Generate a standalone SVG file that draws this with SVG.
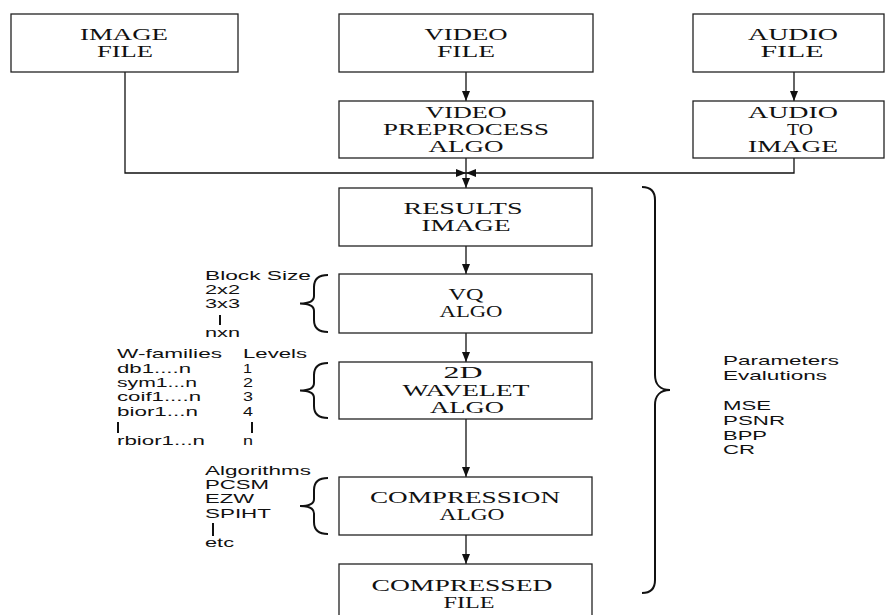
<svg xmlns="http://www.w3.org/2000/svg" width="885" height="615" viewBox="0 0 885 615">
<style>
.box{fill:#fff;stroke:#222;stroke-width:1.3}
.t{font-family:"Liberation Serif","Times New Roman",serif;font-size:16px;fill:#111;text-anchor:middle}
.s{font-family:"Liberation Sans",Arial,sans-serif;font-size:13px;fill:#111}
.ln{fill:none;stroke:#111;stroke-width:1.3}
.pp{fill:none;stroke:#111;stroke-width:2}
.br{fill:none;stroke:#111;stroke-width:2}
</style>
<defs>
<marker id="ah" viewBox="0 0 10 8" refX="10" refY="4" markerWidth="10" markerHeight="8" markerUnits="userSpaceOnUse" orient="auto">
<path d="M0,0 L10,4 L0,8 Z" fill="#111"/>
</marker>
</defs>
<rect width="885" height="615" fill="#fff"/>
<g id="connectors">
<path class="ln" d="M125,72 V173 H466" marker-end="url(#ah)"/>
<path class="ln" d="M794,158 V173 H466" marker-end="url(#ah)"/>
<path class="ln" d="M466,72 V101" marker-end="url(#ah)"/>
<path class="ln" d="M794,72 V101" marker-end="url(#ah)"/>
<path class="ln" d="M466,158 V188" marker-end="url(#ah)"/>
<path class="ln" d="M466,246 V274" marker-end="url(#ah)"/>
<path class="ln" d="M466,333 V362" marker-end="url(#ah)"/>
<path class="ln" d="M466,419 V477" marker-end="url(#ah)"/>
<path class="ln" d="M466,535 V564" marker-end="url(#ah)"/>
</g>
<g id="image-file">
<rect class="box" x="11" y="14" width="227" height="58"/>
<text class="t" x="124" y="40" textLength="88" lengthAdjust="spacingAndGlyphs">IMAGE</text>
<text class="t" x="125" y="57" textLength="56" lengthAdjust="spacingAndGlyphs">FILE</text>
</g>
<g id="video-file">
<rect class="box" x="339" y="14" width="254" height="58"/>
<text class="t" x="466" y="40" textLength="83" lengthAdjust="spacingAndGlyphs">VIDEO</text>
<text class="t" x="466" y="57" textLength="58" lengthAdjust="spacingAndGlyphs">FILE</text>
</g>
<g id="audio-file">
<rect class="box" x="693" y="14" width="191" height="58"/>
<text class="t" x="793" y="40" textLength="90" lengthAdjust="spacingAndGlyphs">AUDIO</text>
<text class="t" x="792" y="57" textLength="63" lengthAdjust="spacingAndGlyphs">FILE</text>
</g>
<g id="video-preprocess">
<rect class="box" x="339" y="101" width="254" height="57"/>
<text class="t" x="466" y="118" textLength="81" lengthAdjust="spacingAndGlyphs">VIDEO</text>
<text class="t" x="466" y="135" textLength="166" lengthAdjust="spacingAndGlyphs">PREPROCESS</text>
<text class="t" x="466" y="152" textLength="75" lengthAdjust="spacingAndGlyphs">ALGO</text>
</g>
<g id="audio-to-image">
<rect class="box" x="693" y="101" width="191" height="57"/>
<text class="t" x="793" y="118" textLength="90" lengthAdjust="spacingAndGlyphs">AUDIO</text>
<text class="t" x="800" y="135" textLength="26" lengthAdjust="spacingAndGlyphs">TO</text>
<text class="t" x="793" y="152" textLength="90" lengthAdjust="spacingAndGlyphs">IMAGE</text>
</g>
<g id="results-image">
<rect class="box" x="339" y="188" width="253" height="58"/>
<text class="t" x="463" y="214" textLength="119" lengthAdjust="spacingAndGlyphs">RESULTS</text>
<text class="t" x="466" y="231" textLength="89" lengthAdjust="spacingAndGlyphs">IMAGE</text>
</g>
<g id="vq-algo">
<rect class="box" x="339" y="274" width="253" height="59"/>
<text class="t" x="466" y="300" textLength="35" lengthAdjust="spacingAndGlyphs">VQ</text>
<text class="t" x="471" y="317" textLength="63" lengthAdjust="spacingAndGlyphs">ALGO</text>
</g>
<g id="wavelet-algo">
<rect class="box" x="339" y="362" width="253" height="57"/>
<text class="t" x="463" y="378" textLength="39" lengthAdjust="spacingAndGlyphs">2D</text>
<text class="t" x="466" y="396" textLength="127" lengthAdjust="spacingAndGlyphs">WAVELET</text>
<text class="t" x="467" y="413" textLength="74" lengthAdjust="spacingAndGlyphs">ALGO</text>
</g>
<g id="compression-algo">
<rect class="box" x="339" y="477" width="253" height="58"/>
<text class="t" x="465" y="503" textLength="190" lengthAdjust="spacingAndGlyphs">COMPRESSION</text>
<text class="t" x="472" y="520" textLength="65" lengthAdjust="spacingAndGlyphs">ALGO</text>
</g>
<g id="compressed-file">
<rect class="box" x="339" y="564" width="253" height="62"/>
<text class="t" x="462" y="591" font-size="15" textLength="181" lengthAdjust="spacingAndGlyphs">COMPRESSED</text>
<text class="t" x="469" y="608" font-size="15" textLength="51" lengthAdjust="spacingAndGlyphs">FILE</text>
</g>
<g id="block-size">
<text class="s" x="205" y="280" textLength="106" lengthAdjust="spacingAndGlyphs">Block Size</text>
<text class="s" x="205" y="294" textLength="35" lengthAdjust="spacingAndGlyphs">2x2</text>
<text class="s" x="205" y="308" textLength="35" lengthAdjust="spacingAndGlyphs">3x3</text>
<line class="pp" x1="220" y1="315" x2="220" y2="325"/>
<text class="s" x="205" y="337" textLength="35" lengthAdjust="spacingAndGlyphs">nxn</text>
<path class="br" d="M328,275 C318,275 314,279 314,287 L314,296 C314,301 310,303.5 300,303.5 C310,303.5 314,306 314,311 L314,320 C314,328 318,332 328,332"/>
</g>
<g id="wavelet-params">
<text class="s" x="117" y="358" textLength="105" lengthAdjust="spacingAndGlyphs">W-families</text>
<text class="s" x="243" y="358" textLength="64" lengthAdjust="spacingAndGlyphs">Levels</text>
<text class="s" x="117" y="373" textLength="74" lengthAdjust="spacingAndGlyphs">db1....n</text>
<text class="s" x="243" y="373" textLength="9" lengthAdjust="spacingAndGlyphs">1</text>
<text class="s" x="117" y="387" textLength="80" lengthAdjust="spacingAndGlyphs">sym1...n</text>
<text class="s" x="243" y="387" textLength="10" lengthAdjust="spacingAndGlyphs">2</text>
<text class="s" x="117" y="401" textLength="84" lengthAdjust="spacingAndGlyphs">coif1....n</text>
<text class="s" x="243" y="401" textLength="10" lengthAdjust="spacingAndGlyphs">3</text>
<text class="s" x="117" y="416" textLength="81" lengthAdjust="spacingAndGlyphs">bior1...n</text>
<text class="s" x="243" y="416" textLength="10" lengthAdjust="spacingAndGlyphs">4</text>
<line class="pp" x1="118" y1="422" x2="118" y2="433"/>
<line class="pp" x1="252" y1="422" x2="252" y2="433"/>
<text class="s" x="117" y="445" textLength="88" lengthAdjust="spacingAndGlyphs">rbior1...n</text>
<text class="s" x="243" y="445" textLength="10" lengthAdjust="spacingAndGlyphs">n</text>
<path class="br" d="M328,363 C318,363 314,367 314,375 L314,383 C314,388 310,390.5 300,390.5 C310,390.5 314,393 314,398 L314,406 C314,414 318,418 328,418"/>
</g>
<g id="algorithms">
<text class="s" x="205" y="475" textLength="106" lengthAdjust="spacingAndGlyphs">Algorithms</text>
<text class="s" x="205" y="489" textLength="64" lengthAdjust="spacingAndGlyphs">PCSM</text>
<text class="s" x="205" y="503" textLength="49" lengthAdjust="spacingAndGlyphs">EZW</text>
<text class="s" x="205" y="518" textLength="66" lengthAdjust="spacingAndGlyphs">SPIHT</text>
<line class="pp" x1="213" y1="523" x2="213" y2="536"/>
<text class="s" x="205" y="547" textLength="29" lengthAdjust="spacingAndGlyphs">etc</text>
<path class="br" d="M328,478 C318,478 314,482 314,490 L314,499 C314,504 310,506 300,506 C310,506 314,508.5 314,513.5 L314,522 C314,530 318,534 328,534"/>
</g>
<g id="evaluation">
<path class="br" d="M642,187 C651,187 655,192 655,200 L655,375 C655,384 660,390 670,390 C660,390 655,396 655,405 L655,580 C655,588 651,593 642,593"/>
<text class="s" x="723" y="365" textLength="116" lengthAdjust="spacingAndGlyphs">Parameters</text>
<text class="s" x="723" y="380" textLength="104" lengthAdjust="spacingAndGlyphs">Evalutions</text>
<text class="s" x="723" y="410" textLength="48" lengthAdjust="spacingAndGlyphs">MSE</text>
<text class="s" x="723" y="425" textLength="62" lengthAdjust="spacingAndGlyphs">PSNR</text>
<text class="s" x="723" y="440" textLength="44" lengthAdjust="spacingAndGlyphs">BPP</text>
<text class="s" x="723" y="454" textLength="32" lengthAdjust="spacingAndGlyphs">CR</text>
</g>
</svg>
